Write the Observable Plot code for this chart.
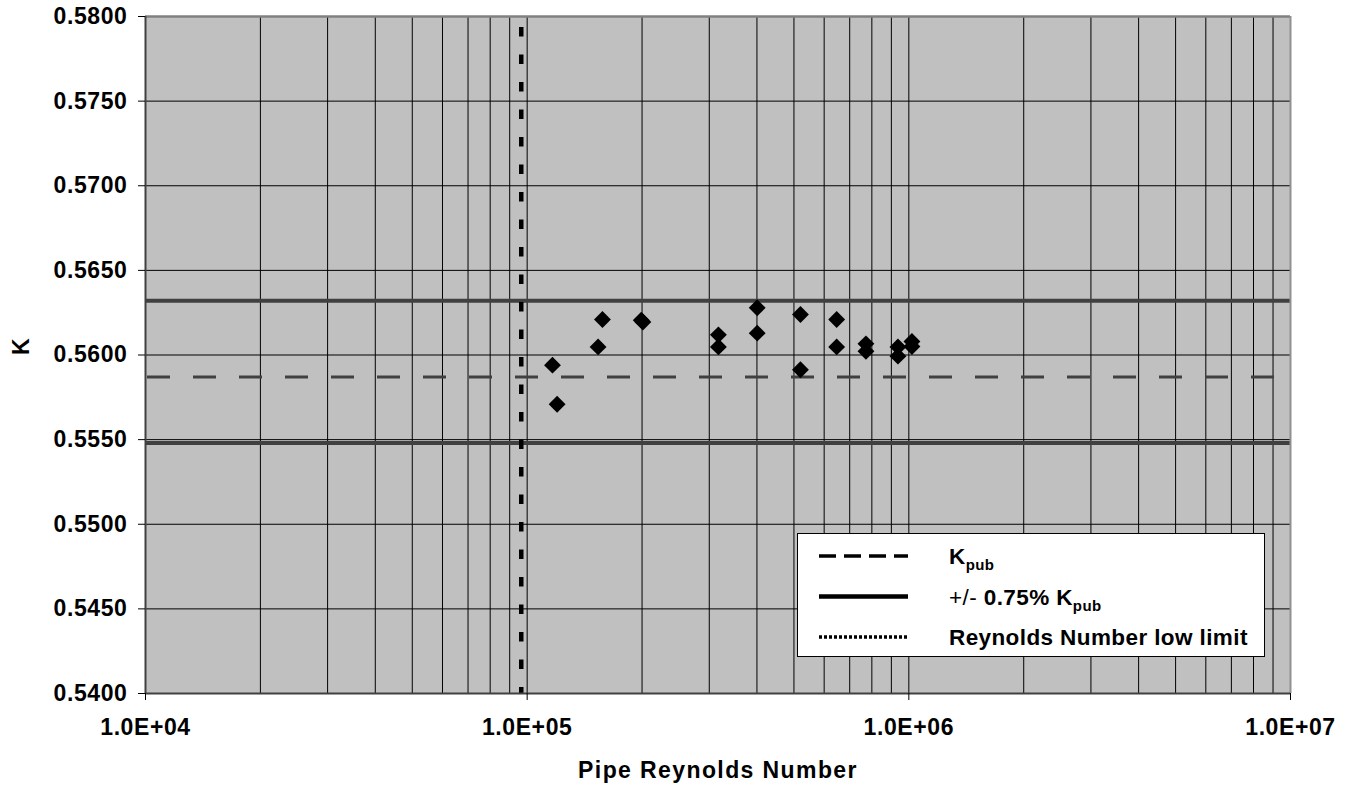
<!DOCTYPE html>
<html><head><meta charset="utf-8">
<script src="https://cdn.jsdelivr.net/npm/d3@7"></script>
<script src="https://cdn.jsdelivr.net/npm/@observablehq/plot@0.6"></script>
<style>
html,body{margin:0;padding:0;background:#fff;}
#chart svg{display:block;}
</style></head><body><div id="chart"></div>
<script>
// ---- data ----
const reynolds = [116500, 119800, 157500, 153400, 199000, 201000, 317000, 317000, 400600, 400600,
                  520000, 520000, 647000, 647000, 772000, 772000, 936500, 936500, 1018800, 1018800];
const kValues  = [0.55940, 0.55709, 0.56210, 0.56048, 0.56206, 0.56195, 0.56119, 0.56048, 0.56279, 0.56129,
                  0.56239, 0.55913, 0.56210, 0.56048, 0.56066, 0.56022, 0.56048, 0.55993, 0.56080, 0.56050];
const kPub = 0.5587;
const kBand = [0.5632, 0.5548];
const reLowLimit = 96500;
const xTicks = [1e4, 1e5, 1e6, 1e7];
const xMinorMultipliers = [2, 3, 4, 5, 6, 7, 8, 9];
const yTicks = [0.540, 0.545, 0.550, 0.555, 0.560, 0.565, 0.570, 0.575, 0.580];
const xTitle = "Pipe Reynolds Number";
const yTitle = "K";
const legendRows = [
  {pre: "", main: "K", sub: "pub", dash: "17,8", width: 3.5},
  {pre: "+/- ", main: "0.75% K", sub: "pub", dash: null, width: 4.5},
  {pre: "", main: "Reynolds Number low limit", sub: "", dash: "3,2", width: 3.5}
];

const points = reynolds.map((re, i) => ({re, k: kValues[i]}));
const gridX = [];
for (const d of xTicks.slice(0, -1)) {
  gridX.push(d);
  for (const m of xMinorMultipliers) gridX.push(m * d);
}
const fmtX = d => "1.0E+" + String(Math.round(Math.log10(d))).padStart(2, "0");

const font = "Arial, 'Liberation Sans', sans-serif";
const svg = Plot.plot({
  width: 1350, height: 795,
  marginLeft: 145, marginRight: 60, marginTop: 16, marginBottom: 102,
  style: {fontFamily: font, fontSize: "23px", fontWeight: "bold", background: "#fff", color: "#000", overflow: "visible", letterSpacing: "0.6px"},
  x: {type: "log", domain: [1e4, 1e7]},
  y: {domain: [0.54, 0.58]},
  marks: [
    Plot.frame({fill: "#c0c0c0", stroke: "none"}),
    Plot.ruleX(gridX, {stroke: "#000", strokeWidth: 1}),
    Plot.ruleY(yTicks, {stroke: "#000", strokeWidth: 1}),
    Plot.ruleY(kBand, {stroke: "#404040", strokeWidth: 4}),
    Plot.ruleY([kPub], {stroke: "#404040", strokeWidth: 3, strokeDasharray: "23,23", strokeDashoffset: -2}),
    Plot.ruleX([reLowLimit], {stroke: "#000", strokeWidth: 4.5, strokeDasharray: "9.5,18", strokeDashoffset: 16.5}),
    Plot.dot(points, {x: "re", y: "k", symbol: "diamond2", r: 7.6, fill: "#000", stroke: "none"}),
    Plot.ruleY([0.58], {stroke: "#808080", strokeWidth: 2.5}),
    Plot.ruleX([1e7], {stroke: "#909090", strokeWidth: 2}),
    Plot.ruleX([1e4], {stroke: "#404040", strokeWidth: 2}),
    Plot.ruleY([0.54], {stroke: "#404040", strokeWidth: 2}),
    Plot.axisY({ticks: yTicks, tickFormat: d3.format(".4f"), tickSize: 7, tickPadding: 11, label: null, fontSize: 23}),
    Plot.axisX({ticks: xTicks, tickFormat: fmtX, tickSize: 7, tickPadding: 18, label: null, fontSize: 23}),
    Plot.text([xTitle], {text: d => d, frameAnchor: "bottom", dy: 84, fontSize: 23, fontWeight: "bold"}),
    Plot.text([yTitle], {text: d => d, frameAnchor: "left", dx: -124, rotate: -90, fontSize: 23, fontWeight: "bold"})
  ]
});
document.getElementById("chart").appendChild(svg);

const s = d3.select(svg);
// wider spacing on the x title, as in the reference
s.selectAll("text").filter(function () { return this.textContent === xTitle; }).style("letter-spacing", "1.4px");

// legend box inside the plot area
const lg = s.append("g").attr("font-family", font).attr("font-size", 22.5).attr("font-weight", "bold")
  .attr("text-anchor", "start").style("letter-spacing", "0.4px");
lg.append("rect").attr("x", 797.5).attr("y", 533.5).attr("width", 467).attr("height", 123)
  .attr("fill", "#fff").attr("stroke", "#000").attr("stroke-width", 1);
legendRows.forEach((r, i) => {
  const y = 556 + i * 40.5;
  lg.append("line").attr("x1", 819).attr("x2", 908).attr("y1", y).attr("y2", y)
    .attr("stroke", "#000").attr("stroke-width", r.width)
    .attr("stroke-dasharray", r.dash);
  const t = lg.append("text").attr("x", 949).attr("y", y + 8);
  if (r.pre) t.append("tspan").attr("font-weight", "normal").text(r.pre);
  t.append("tspan").text(r.main);
  if (r.sub) t.append("tspan").attr("font-size", 15).attr("dy", 6).text(r.sub);
});
</script></body></html>
